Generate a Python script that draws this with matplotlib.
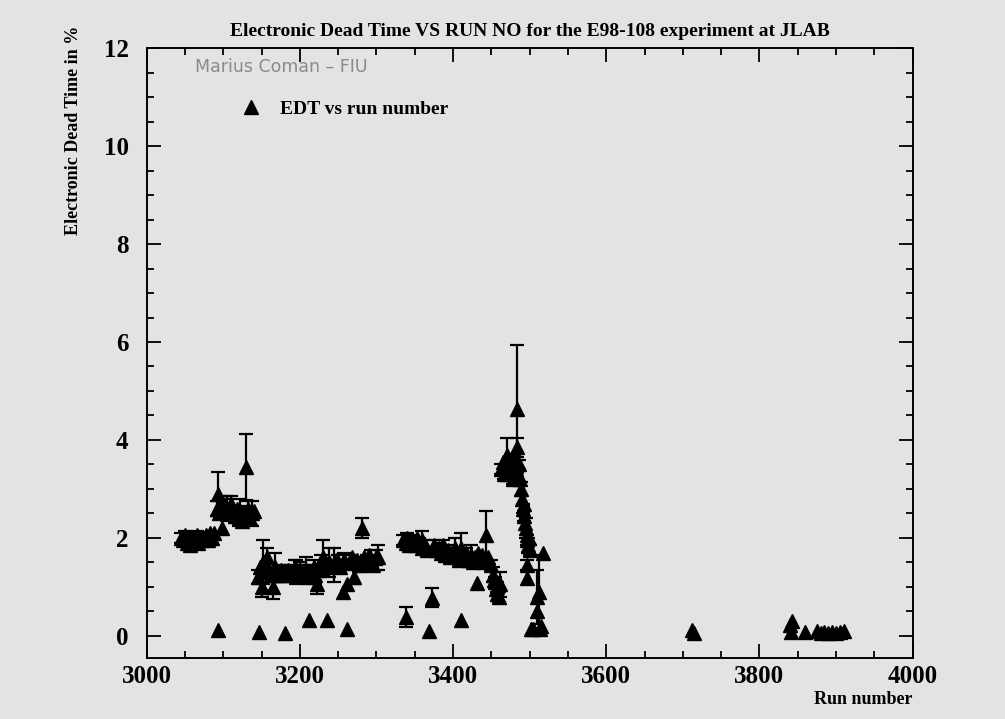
import numpy as np
import matplotlib
matplotlib.use("Agg")
import matplotlib.pyplot as plt
from matplotlib.ticker import MultipleLocator

# run number, electronic dead time (%), error (0 = no visible bar)
runs = [
    # ~3045-3090 block
    3045, 3048, 3050, 3052, 3055, 3057, 3060, 3062, 3065, 3067, 3070, 3072,
    3075, 3078, 3080, 3082, 3085, 3088, 3098,
    # ~3092-3140 block
    3093, 3092, 3095, 3098, 3100, 3103, 3105, 3108, 3110, 3112, 3115, 3118,
    3120, 3122, 3125, 3127, 3130, 3130, 3132, 3135, 3138, 3140,
    # ~3145-3305 block
    3145, 3148, 3150, 3152, 3155, 3157, 3160, 3162, 3165, 3167, 3170, 3173,
    3175, 3178, 3180, 3183, 3185, 3188, 3190, 3193, 3195, 3198, 3200, 3203,
    3205, 3208, 3210, 3212, 3215, 3218, 3220, 3222, 3225, 3228, 3230, 3235,
    3238, 3241, 3244, 3247, 3250, 3253, 3256, 3258, 3262, 3265, 3268, 3271,
    3274, 3277, 3281, 3284, 3287, 3290, 3293, 3296, 3299, 3302,
    # low points
    3093, 3146, 3181, 3212, 3236, 3261, 3338, 3373, 3368, 3410, 3431,
    # ~3335-3370 block
    3335, 3338, 3340, 3343, 3345, 3348, 3350, 3353, 3355, 3359, 3360, 3363, 3366,
    # ~3375-3450 block
    3375, 3378, 3381, 3384, 3387, 3390, 3393, 3396, 3399, 3402, 3405, 3408,
    3411, 3414, 3417, 3420, 3423, 3426, 3429, 3432, 3435, 3438, 3441, 3443,
    3446, 3449,
    # ~3452-3461 dip
    3452, 3453, 3455, 3456, 3457, 3458, 3460, 3461,
    # ~3462-3488 peak
    3462, 3465, 3467, 3468, 3470, 3472, 3474, 3476, 3478, 3480, 3482, 3483,
    3484, 3485, 3486, 3488,
    # ~3488-3500 descent
    3489, 3490, 3491, 3492, 3493, 3494, 3495, 3496, 3497, 3498, 3499, 3500,
    3496, 3497,
    # ~3500-3517 tail
    3502, 3505, 3509, 3510, 3512, 3513, 3515, 3517,
    # later runs
    3712, 3714, 3840, 3841, 3843, 3860, 3875, 3880, 3885, 3890, 3895, 3900,
    3905, 3910,
]
edt = [
    2.00, 1.95, 2.05, 1.90, 2.00, 1.85, 2.00, 1.95, 2.05, 1.90, 2.00, 1.95,
    2.00, 2.05, 1.95, 2.10, 2.00, 2.10, 2.20,
    2.90, 2.60, 2.50, 2.70, 2.55, 2.65, 2.60, 2.50, 2.70, 2.55, 2.45, 2.60,
    2.40, 2.55, 2.35, 2.50, 3.45, 2.45, 2.60, 2.40, 2.50, 2.55,
    1.20, 1.40, 1.00, 1.50, 1.30, 1.60, 1.35, 1.25, 1.00, 1.40, 1.30, 1.25,
    1.35, 1.30, 1.25, 1.30, 1.35, 1.30, 1.25, 1.40, 1.30, 1.30, 1.35, 1.25,
    1.30, 1.35, 1.20, 1.30, 1.30, 1.40, 1.25, 1.05, 1.35, 1.50, 1.60, 1.40,
    1.50, 1.45, 1.45, 1.55, 1.50, 1.40, 0.90, 1.55, 1.05, 1.50, 1.60, 1.20,
    1.55, 1.45, 2.20, 1.60, 1.50, 1.65, 1.55, 1.45, 1.60, 1.60,
    0.12, 0.08, 0.05, 0.32, 0.33, 0.15, 0.38, 0.78, 0.10, 0.32, 1.08,
    1.95, 1.90, 2.00, 1.85, 1.95, 1.90, 1.85, 2.00, 1.90, 1.95, 1.80, 1.85, 1.75,
    1.85, 1.75, 1.80, 1.70, 1.85, 1.65, 1.75, 1.60, 1.70, 1.80, 1.65, 1.55,
    1.80, 1.60, 1.70, 1.55, 1.65, 1.50, 1.60, 1.70, 1.55, 1.65, 1.50, 2.05,
    1.60, 1.45,
    1.25, 1.15, 1.10, 0.95, 1.00, 0.85, 0.80, 1.05,
    3.40, 3.55, 3.30, 3.60, 3.70, 3.30, 3.50, 3.35, 3.20, 3.60, 3.40, 4.63,
    3.85, 3.30, 3.50, 3.20,
    3.00, 2.80, 2.60, 2.70, 2.45, 2.30, 2.20, 2.05, 1.95, 1.85, 2.00, 1.75,
    1.45, 1.18,
    0.15, 0.15, 0.50, 0.80, 0.90, 0.14, 0.20, 1.70,
    0.12, 0.05, 0.22, 0.08, 0.30, 0.08, 0.10, 0.06, 0.08, 0.05, 0.07, 0.05,
    0.08, 0.10,
]
err = [
    0.10, 0.00, 0.10, 0.00, 0.10, 0.00, 0.10, 0.00, 0.10, 0.00, 0.10, 0.00,
    0.10, 0.00, 0.10, 0.00, 0.10, 0.00, 0.00,
    0.45, 0.15, 0.00, 0.15, 0.00, 0.15, 0.25, 0.00, 0.15, 0.00, 0.15, 0.00,
    0.15, 0.25, 0.00, 0.15, 0.68, 0.00, 0.15, 0.00, 0.25, 0.00,
    0.15, 0.00, 0.20, 0.45, 0.00, 0.20, 0.00, 0.15, 0.25, 0.30, 0.00, 0.15,
    0.00, 0.15, 0.00, 0.15, 0.00, 0.15, 0.00, 0.15, 0.25, 0.00, 0.15, 0.00,
    0.15, 0.25, 0.00, 0.15, 0.00, 0.15, 0.20, 0.20, 0.00, 0.15, 0.35, 0.00,
    0.30, 0.00, 0.35, 0.00, 0.15, 0.00, 0.00, 0.15, 0.00, 0.15, 0.00, 0.15,
    0.00, 0.15, 0.20, 0.00, 0.15, 0.00, 0.20, 0.00, 0.15, 0.25,
    0.00, 0.00, 0.00, 0.00, 0.00, 0.00, 0.20, 0.19, 0.00, 0.00, 0.00,
    0.10, 0.00, 0.10, 0.00, 0.10, 0.00, 0.10, 0.00, 0.10, 0.20, 0.00, 0.10, 0.00,
    0.10, 0.00, 0.10, 0.00, 0.10, 0.00, 0.10, 0.00, 0.10, 0.20, 0.00, 0.10,
    0.30, 0.00, 0.10, 0.00, 0.20, 0.00, 0.10, 0.00, 0.10, 0.00, 0.10, 0.50,
    0.00, 0.10,
    0.15, 0.00, 0.10, 0.00, 0.10, 0.00, 0.10, 0.25,
    0.10, 0.00, 0.10, 0.00, 0.35, 0.00, 0.10, 0.00, 0.10, 0.10, 0.00, 1.30,
    0.20, 0.00, 0.10, 0.00,
    0.15, 0.00, 0.10, 0.00, 0.10, 0.00, 0.20, 0.00, 0.10, 0.15, 0.00, 0.10,
    0.10, 0.00,
    0.00, 0.00, 0.00, 0.55, 0.75, 0.00, 0.00, 0.00,
    0.00, 0.00, 0.00, 0.00, 0.00, 0.00, 0.00, 0.00, 0.00, 0.00, 0.00, 0.00,
    0.00, 0.00,
]

runs = np.array(runs, dtype=float)
edt = np.array(edt)
err = np.array(err)

bg = "#e3e3e3"
serif = "Liberation Serif"

fig = plt.figure(figsize=(10.05, 7.19), dpi=100, facecolor=bg)
ax = fig.add_axes([0.146, 0.085, 0.762, 0.848])
ax.set_facecolor(bg)

has_err = err > 0
ax.errorbar(runs[has_err], edt[has_err], yerr=err[has_err], fmt="none",
            ecolor="black", elinewidth=1.6, capsize=5, capthick=1.6)
ax.plot(runs, edt, linestyle="none", marker="^", ms=10, color="black",
        label="EDT vs run number")

ax.set_xlim(3000, 4000)
ax.set_ylim(-0.45, 12)
ax.xaxis.set_major_locator(MultipleLocator(200))
ax.xaxis.set_minor_locator(MultipleLocator(50))
ax.yaxis.set_major_locator(MultipleLocator(2))
ax.yaxis.set_minor_locator(MultipleLocator(0.5))
ax.tick_params(which="both", direction="in", top=True, right=True, width=1.3)
ax.tick_params(which="major", length=10)
ax.tick_params(which="minor", length=5)
ax.tick_params(axis="x", which="major", pad=5)
ax.tick_params(axis="y", which="major", pad=13)
for lab in ax.get_xticklabels() + ax.get_yticklabels():
    lab.set_fontfamily(serif)
    lab.set_fontweight("bold")
    lab.set_fontsize(18)
for sp in ax.spines.values():
    sp.set_linewidth(1.4)

fig.text(530 / 1005, 1 - 32 / 719, "Electronic Dead Time VS RUN NO for the E98-108 experiment at JLAB",
         ha="center", va="center", family=serif, weight="bold", fontsize=14)
fig.text(73 / 1005, 1 - 130 / 719, "Electronic Dead Time in %", rotation=90,
         ha="center", va="center", family=serif, weight="bold", fontsize=13)
fig.text(0.908, 1 - 699 / 719, "Run number", ha="right", va="center",
         family=serif, weight="bold", fontsize=13)
fig.text(195 / 1005, 1 - 67 / 719, "Marius Coman \u2013 FIU", ha="left", va="center",
         family="DejaVu Sans", color="#8a8a8a", fontsize=12.5)

ax.legend(loc="center left", bbox_to_anchor=(0.1, 0.90), frameon=False,
          handlelength=1.0, handletextpad=1.0,
          prop={"family": serif, "weight": "bold", "size": 14})

fig.savefig("out.png", dpi=100, facecolor=bg)
